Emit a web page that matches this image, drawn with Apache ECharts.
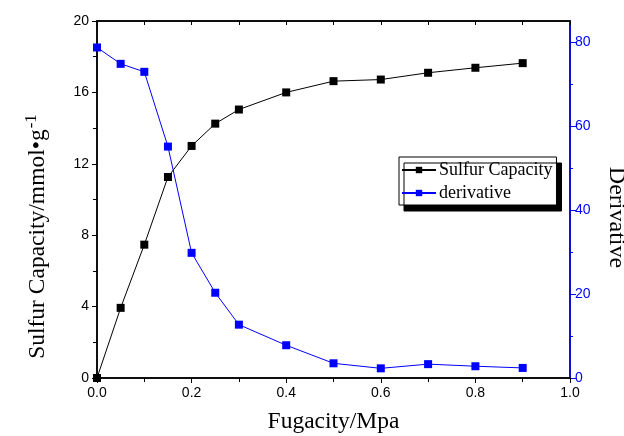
<!DOCTYPE html>
<html>
<head>
<meta charset="utf-8">
<script src="https://cdn.jsdelivr.net/npm/echarts@6/dist/echarts.min.js"></script>
<style>
  html, body { margin: 0; padding: 0; background: #fff; }
  #chart { width: 624px; height: 436px; }
</style>
</head>
<body>
<div id="chart"></div>
<script>
// 数据
const fugacity = [0, 0.05, 0.1, 0.15, 0.2, 0.25, 0.3, 0.4, 0.5, 0.6, 0.7, 0.8, 0.9];
const sulfurCapacity = [0, 3.93, 7.47, 11.26, 13.0, 14.25, 15.04, 16.0, 16.63, 16.72, 17.1, 17.38, 17.64];
const derivative = [78.7, 74.8, 72.9, 55.1, 29.8, 20.3, 12.7, 7.8, 3.5, 2.3, 3.3, 2.8, 2.4];
// 右轴刻度
const derivMajorTicks = [0, 20, 40, 60, 80];
const derivMinorTicks = [10, 30, 50, 70];

const serif = 'Liberation Serif';
const sans = 'Liberation Sans';

const chart = echarts.init(document.getElementById('chart'));

const option = {
  animation: false,
  grid: {
    left: 97, right: 54, top: 21, bottom: 58,
    outerBoundsMode: 'none',
    show: true, borderColor: '#000', borderWidth: 1.5, backgroundColor: 'transparent'
  },
  legend: {
    orient: 'vertical',
    left: 399,
    top: 157,
    padding: [4, 4, 3, 2],
    itemGap: 5,
    itemWidth: 34,
    itemHeight: 8,
    backgroundColor: '#fff',
    borderColor: '#000',
    borderWidth: 1,
    shadowColor: '#000',
    shadowBlur: 0.01,
    shadowOffsetX: 5,
    shadowOffsetY: 6,
    textStyle: { fontFamily: serif, fontSize: 18, color: '#000', padding: [0, 0, 0, -2] },
    data: ['Sulfur Capacity', 'derivative']
  },
  xAxis: [
    {
      type: 'value',
      min: 0,
      max: 1,
      interval: 0.2,
      name: 'Fugacity/Mpa',
      nameLocation: 'middle',
      nameGap: 32,
      nameTextStyle: { fontFamily: serif, fontSize: 23.5, color: '#000' },
      axisLine: { show: true, onZero: false, lineStyle: { color: '#000', width: 1.5 } },
      axisTick: { show: true, length: 5, lineStyle: { color: '#000' } },
      minorTick: { show: true, splitNumber: 2, length: 4, lineStyle: { color: '#000' } },
      axisLabel: {
        fontFamily: sans, fontSize: 14, color: '#000', margin: 8,
        formatter: v => v.toFixed(1)
      },
      splitLine: { show: false }
    },
    {
      type: 'value',
      position: 'top',
      min: 0,
      max: 1,
      interval: 0.1,
      axisLine: { show: true, onZero: false, lineStyle: { color: '#000', width: 1.5 } },
      axisTick: { show: true, inside: true, length: 4, lineStyle: { color: '#000' } },
      axisLabel: { show: false },
      splitLine: { show: false }
    }
  ],
  yAxis: [
    {
      type: 'value',
      position: 'left',
      min: 0,
      max: 20,
      interval: 4,
      name: 'Sulfur Capacity/mmol•g{sup|-1}',
      nameLocation: 'middle',
      nameGap: 45,
      nameTextStyle: {
        fontFamily: serif, fontSize: 23.5, color: '#000',
        padding: [0, 74, 0, 0],
        rich: {
          sup: { fontFamily: serif, fontSize: 17, color: '#000', verticalAlign: 'bottom', padding: [0, 0, 12, 1] }
        }
      },
      axisLine: { show: true, onZero: false, lineStyle: { color: '#000', width: 1.5 } },
      axisTick: { show: true, length: 5, lineStyle: { color: '#000' } },
      minorTick: { show: true, splitNumber: 2, length: 4, lineStyle: { color: '#000' } },
      axisLabel: { fontFamily: sans, fontSize: 14, color: '#000', margin: 8 },
      splitLine: { show: false }
    },
    {
      type: 'value',
      position: 'right',
      min: 0,
      max: 85,
      name: 'Derivative',
      nameLocation: 'middle',
      nameRotate: -90,
      nameGap: 34,
      nameTextStyle: {
        fontFamily: serif, fontSize: 24, color: '#000',
        padding: [0, 0, 0, 36]
      },
      axisLine: { show: true, onZero: false, lineStyle: { color: '#0000ff', width: 1.5 } },
      axisTick: { show: true, length: 6, customValues: derivMajorTicks, lineStyle: { color: '#0000ff' } },
      axisLabel: { fontFamily: sans, fontSize: 14, color: '#0000ff', margin: 5, customValues: derivMajorTicks },
      splitLine: { show: false }
    },
    {
      // 右轴次刻度
      type: 'value',
      position: 'right',
      min: 0,
      max: 85,
      axisLine: { show: false, onZero: false },
      axisTick: { show: true, length: 3, customValues: derivMinorTicks, lineStyle: { color: '#0000ff' } },
      axisLabel: { show: false },
      splitLine: { show: false }
    }
  ],
  series: [
    {
      name: 'Sulfur Capacity',
      type: 'line',
      xAxisIndex: 0,
      yAxisIndex: 0,
      data: fugacity.map((x, i) => [x, sulfurCapacity[i]]),
      symbol: 'rect',
      symbolSize: 8,
      itemStyle: { color: '#000' },
      lineStyle: { color: '#000', width: 1 },
      z: 3
    },
    {
      name: 'derivative',
      type: 'line',
      xAxisIndex: 0,
      yAxisIndex: 1,
      data: fugacity.map((x, i) => [x, derivative[i]]),
      symbol: 'rect',
      symbolSize: 8,
      itemStyle: { color: '#0000ff' },
      lineStyle: { color: '#0000ff', width: 1 },
      z: 2
    }
  ]
};

chart.setOption(option);
</script>
</body>
</html>
